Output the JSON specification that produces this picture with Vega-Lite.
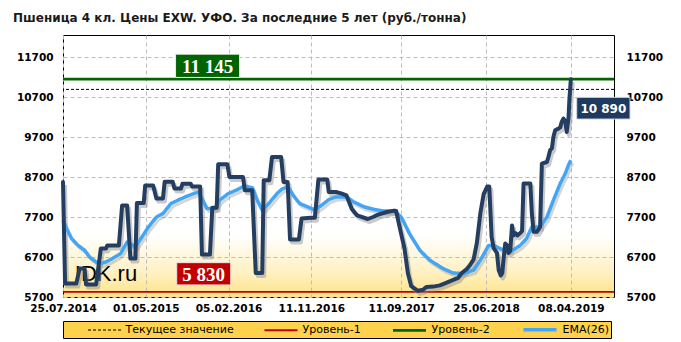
{
  "$schema": "https://vega.github.io/schema/vega-lite/v6.json",
  "width": 551,
  "height": 262,
  "autosize": {"type": "none"},
  "padding": {"left": 63, "top": 35, "right": 67, "bottom": 45},
  "background": "#ffffff",
  "title": {"text": "Пшеница  4 кл. Цены EXW. УФО. За последние 5 лет (руб./тонна)", "anchor": "start", "frame": "group", "dx": -50, "offset": 10, "font": "DejaVu Sans", "fontSize": 12, "fontWeight": "bold", "color": "#1a1a1a"},
  "datasets": {
    "price": [
      {"date": "2014-07-25", "value": 8575}, {"date": "2014-08-01", "value": 6035}, {"date": "2014-09-08", "value": 6035}, {"date": "2014-09-19", "value": 6410}, {"date": "2014-10-06", "value": 6410}, {"date": "2014-10-11", "value": 6010}, {"date": "2014-11-14", "value": 6010}, {"date": "2014-11-30", "value": 6910}, {"date": "2014-12-17", "value": 6910}, {"date": "2014-12-22", "value": 6990}, {"date": "2015-01-30", "value": 6990}, {"date": "2015-02-10", "value": 7990}, {"date": "2015-02-27", "value": 7990}, {"date": "2015-03-10", "value": 6660}, {"date": "2015-03-27", "value": 6660}, {"date": "2015-04-01", "value": 8050}, {"date": "2015-04-24", "value": 8050}, {"date": "2015-04-29", "value": 8490}, {"date": "2015-05-26", "value": 8490}, {"date": "2015-06-06", "value": 8160}, {"date": "2015-06-28", "value": 8160}, {"date": "2015-07-04", "value": 8580}, {"date": "2015-07-31", "value": 8580}, {"date": "2015-08-06", "value": 8410}, {"date": "2015-08-28", "value": 8410}, {"date": "2015-09-02", "value": 8530}, {"date": "2015-09-30", "value": 8530}, {"date": "2015-10-05", "value": 8460}, {"date": "2015-11-01", "value": 8460}, {"date": "2015-11-07", "value": 6760}, {"date": "2015-12-04", "value": 6760}, {"date": "2015-12-12", "value": 7930}, {"date": "2015-12-27", "value": 7930}, {"date": "2016-01-01", "value": 9020}, {"date": "2016-02-01", "value": 9020}, {"date": "2016-02-08", "value": 8700}, {"date": "2016-03-25", "value": 8700}, {"date": "2016-03-31", "value": 8370}, {"date": "2016-04-25", "value": 8370}, {"date": "2016-05-07", "value": 6300}, {"date": "2016-05-29", "value": 6300}, {"date": "2016-06-03", "value": 8620}, {"date": "2016-06-22", "value": 8620}, {"date": "2016-07-01", "value": 9200}, {"date": "2016-08-01", "value": 9200}, {"date": "2016-08-09", "value": 8575}, {"date": "2016-08-23", "value": 8575}, {"date": "2016-08-31", "value": 7140}, {"date": "2016-09-30", "value": 7140}, {"date": "2016-10-09", "value": 7660}, {"date": "2016-11-09", "value": 7680}, {"date": "2016-11-23", "value": 7680}, {"date": "2016-12-05", "value": 8640}, {"date": "2017-01-04", "value": 8640}, {"date": "2017-01-09", "value": 8325}, {"date": "2017-02-02", "value": 8325}, {"date": "2017-02-20", "value": 8290}, {"date": "2017-03-10", "value": 8240}, {"date": "2017-03-28", "value": 7900}, {"date": "2017-04-15", "value": 7740}, {"date": "2017-05-21", "value": 7650}, {"date": "2017-06-08", "value": 7700}, {"date": "2017-06-25", "value": 7760}, {"date": "2017-07-25", "value": 7825}, {"date": "2017-08-18", "value": 7860}, {"date": "2017-08-25", "value": 7850}, {"date": "2017-09-05", "value": 7470}, {"date": "2017-09-22", "value": 6920}, {"date": "2017-10-04", "value": 6285}, {"date": "2017-10-15", "value": 5970}, {"date": "2017-11-07", "value": 5855}, {"date": "2017-11-24", "value": 5880}, {"date": "2017-12-05", "value": 5950}, {"date": "2017-12-28", "value": 5960}, {"date": "2018-01-20", "value": 5990}, {"date": "2018-02-12", "value": 6060}, {"date": "2018-03-06", "value": 6130}, {"date": "2018-03-23", "value": 6180}, {"date": "2018-04-04", "value": 6300}, {"date": "2018-04-21", "value": 6400}, {"date": "2018-05-02", "value": 6500}, {"date": "2018-05-14", "value": 6640}, {"date": "2018-05-25", "value": 7050}, {"date": "2018-06-06", "value": 7800}, {"date": "2018-06-17", "value": 8270}, {"date": "2018-06-29", "value": 8460}, {"date": "2018-07-06", "value": 8460}, {"date": "2018-07-14", "value": 7200}, {"date": "2018-07-21", "value": 6920}, {"date": "2018-08-01", "value": 6800}, {"date": "2018-08-07", "value": 6370}, {"date": "2018-08-14", "value": 6240}, {"date": "2018-08-19", "value": 6300}, {"date": "2018-08-23", "value": 6620}, {"date": "2018-08-29", "value": 7035}, {"date": "2018-09-05", "value": 6990}, {"date": "2018-09-09", "value": 6800}, {"date": "2018-09-15", "value": 6850}, {"date": "2018-09-21", "value": 7490}, {"date": "2018-09-26", "value": 7240}, {"date": "2018-10-02", "value": 7300}, {"date": "2018-10-09", "value": 7240}, {"date": "2018-10-19", "value": 7300}, {"date": "2018-10-25", "value": 7350}, {"date": "2018-10-30", "value": 8535}, {"date": "2018-11-22", "value": 8535}, {"date": "2018-11-27", "value": 7800}, {"date": "2018-12-03", "value": 7330}, {"date": "2018-12-14", "value": 7330}, {"date": "2018-12-25", "value": 7450}, {"date": "2018-12-31", "value": 9035}, {"date": "2019-01-17", "value": 9075}, {"date": "2019-01-22", "value": 9200}, {"date": "2019-01-28", "value": 9370}, {"date": "2019-02-03", "value": 9420}, {"date": "2019-02-08", "value": 9700}, {"date": "2019-02-14", "value": 9870}, {"date": "2019-02-25", "value": 9910}, {"date": "2019-03-03", "value": 9940}, {"date": "2019-03-08", "value": 10075}, {"date": "2019-03-14", "value": 10160}, {"date": "2019-03-20", "value": 10100}, {"date": "2019-03-25", "value": 9825}, {"date": "2019-03-31", "value": 10160}, {"date": "2019-04-03", "value": 10620}, {"date": "2019-04-08", "value": 11145}
    ],
    "ema": [
      {"date": "2014-07-25", "value": 7620}, {"date": "2014-08-06", "value": 7410}, {"date": "2014-08-23", "value": 7160}, {"date": "2014-09-14", "value": 6990}, {"date": "2014-10-06", "value": 6870}, {"date": "2014-10-23", "value": 6700}, {"date": "2014-11-14", "value": 6575}, {"date": "2014-11-30", "value": 6535}, {"date": "2014-12-17", "value": 6575}, {"date": "2015-01-08", "value": 6660}, {"date": "2015-02-05", "value": 6785}, {"date": "2015-02-27", "value": 7075}, {"date": "2015-03-27", "value": 6950}, {"date": "2015-04-18", "value": 7200}, {"date": "2015-05-10", "value": 7450}, {"date": "2015-06-06", "value": 7700}, {"date": "2015-06-28", "value": 7785}, {"date": "2015-07-25", "value": 8035}, {"date": "2015-08-22", "value": 8135}, {"date": "2015-09-24", "value": 8240}, {"date": "2015-10-27", "value": 8325}, {"date": "2015-11-24", "value": 7910}, {"date": "2015-12-21", "value": 7910}, {"date": "2016-01-06", "value": 8120}, {"date": "2016-02-04", "value": 8285}, {"date": "2016-03-02", "value": 8370}, {"date": "2016-03-31", "value": 8480}, {"date": "2016-04-26", "value": 8430}, {"date": "2016-05-10", "value": 8150}, {"date": "2016-05-29", "value": 7870}, {"date": "2016-06-20", "value": 8035}, {"date": "2016-07-18", "value": 8285}, {"date": "2016-08-04", "value": 8400}, {"date": "2016-08-25", "value": 8450}, {"date": "2016-09-11", "value": 8240}, {"date": "2016-10-03", "value": 8035}, {"date": "2016-10-31", "value": 7950}, {"date": "2016-11-23", "value": 7875}, {"date": "2016-12-17", "value": 8000}, {"date": "2017-01-09", "value": 8135}, {"date": "2017-02-02", "value": 8200}, {"date": "2017-03-10", "value": 8200}, {"date": "2017-04-04", "value": 8075}, {"date": "2017-05-10", "value": 7950}, {"date": "2017-06-14", "value": 7885}, {"date": "2017-07-14", "value": 7850}, {"date": "2017-08-18", "value": 7850}, {"date": "2017-09-11", "value": 7700}, {"date": "2017-10-09", "value": 7285}, {"date": "2017-11-13", "value": 6870}, {"date": "2017-12-17", "value": 6620}, {"date": "2018-01-31", "value": 6410}, {"date": "2018-03-06", "value": 6300}, {"date": "2018-04-09", "value": 6285}, {"date": "2018-05-14", "value": 6370}, {"date": "2018-06-06", "value": 6620}, {"date": "2018-07-04", "value": 6990}, {"date": "2018-07-21", "value": 6990}, {"date": "2018-08-12", "value": 6910}, {"date": "2018-08-29", "value": 6870}, {"date": "2018-09-26", "value": 6880}, {"date": "2018-10-19", "value": 6990}, {"date": "2018-11-09", "value": 7160}, {"date": "2018-11-27", "value": 7450}, {"date": "2018-12-25", "value": 7450}, {"date": "2019-01-17", "value": 7700}, {"date": "2019-02-08", "value": 8120}, {"date": "2019-03-03", "value": 8535}, {"date": "2019-03-20", "value": 8785}, {"date": "2019-03-31", "value": 9000}, {"date": "2019-04-08", "value": 9120}
    ],
    "levels": [
      {"series": "Текущее значение", "value": 10890},
      {"series": "Уровень-1", "value": 5830},
      {"series": "Уровень-2", "value": 11145}
    ],
    "labels": [
      {"label": "11 145", "date": "2015-11-26", "value": 11480},
      {"label": "5 830", "date": "2015-11-13", "value": 6280},
      {"label": "10 890", "date": "2019-07-27", "value": 10420}
    ],
    "watermark": [
      {"text": "IDK.ru", "date": "2014-09-03", "value": 6108}
    ]
  },
  "config": {
    "view": {"stroke": "#000000", "strokeWidth": 1, "fill": {"gradient": "linear", "x1": 0, "y1": 0, "x2": 0, "y2": 1, "stops": [{"offset": 0, "color": "#ffffff"}, {"offset": 0.76, "color": "#ffffff"}, {"offset": 0.9, "color": "#FFF1C4"}, {"offset": 1, "color": "#FFE386"}]}},
    "axis": {"domain": false, "ticks": false, "labelFont": "DejaVu Sans", "labelFontWeight": "bold", "labelFontSize": 10.5, "labelColor": "#000000", "gridColor": "#BDBDBD", "gridDash": [4, 3], "gridWidth": 1},
    "legend": {"orient": "none", "legendX": 0, "legendY": 286, "direction": "horizontal", "fillColor": "#FFD24D", "strokeColor": "#000000", "padding": 1, "symbolType": "M-3,0L3,0", "symbolSize": 121, "symbolOffset": 9.5, "labelFont": "DejaVu Sans", "labelFontSize": 11, "labelColor": "#000000", "labelOffset": 15, "columnPadding": 26, "titleOrient": "left", "titlePadding": 25, "titleFontSize": 11, "labelLimit": 300}
  },
  "resolve": {"axis": {"y": "independent"}, "scale": {"y": "shared"}},
  "layer": [
    {
      "data": {"name": "watermark"},
      "mark": {"type": "text", "align": "left", "baseline": "alphabetic", "font": "Liberation Sans", "fontSize": 22, "color": "#000000"},
      "encoding": {
        "x": {"field": "date", "type": "temporal", "title": null,
              "scale": {"type": "utc", "domain": [{"year": 2014, "month": 7, "date": 25, "utc": true}, {"year": 2019, "month": 9, "date": 1, "utc": true}]},
              "axis": {"values": [{"year": 2014, "month": 7, "date": 25, "utc": true}, {"year": 2015, "month": 5, "date": 1, "utc": true}, {"year": 2016, "month": 2, "date": 5, "utc": true}, {"year": 2016, "month": 11, "date": 11, "utc": true}, {"year": 2017, "month": 9, "date": 11, "utc": true}, {"year": 2018, "month": 6, "date": 25, "utc": true}, {"year": 2019, "month": 4, "date": 8, "utc": true}], "format": "%d.%m.%Y", "labelFlush": false, "labelOverlap": false, "labelBound": false, "labelPadding": 6, "grid": true}},
        "y": {"field": "value", "type": "quantitative", "axis": null, "scale": {"domain": [5700, 12250], "nice": false, "zero": false}},
        "text": {"field": "text"}
      }
    },
    {
      "data": {"name": "levels"},
      "mark": {"type": "rule"},
      "encoding": {
        "y": {"field": "value", "type": "quantitative", "axis": null, "scale": {"domain": [5700, 12250], "nice": false, "zero": false}},
        "color": {"field": "series", "type": "nominal", "title": " ", "scale": {"domain": ["Текущее значение", "Уровень-1", "Уровень-2", "EMA(26)"], "range": ["#000000", "#C00000", "#006400", "#42A5F5"]}, "legend": {"fillColor": "#FFD24D", "strokeColor": "#000000", "labelExpr": "datum.label == 'EMA(26)' ? 'EMA(26)\u2003\u2003' : datum.label"}},
        "strokeDash": {"field": "series", "type": "nominal", "title": " ", "scale": {"domain": ["Текущее значение", "Уровень-1", "Уровень-2", "EMA(26)"], "range": [[3, 2], [1, 0], [1, 0], [1, 0]]}, "legend": {"fillColor": "#FFD24D", "strokeColor": "#000000", "labelExpr": "datum.label == 'EMA(26)' ? 'EMA(26)\u2003\u2003' : datum.label"}},
        "strokeWidth": {"field": "series", "type": "nominal", "title": " ", "scale": {"domain": ["Текущее значение", "Уровень-1", "Уровень-2", "EMA(26)"], "range": [1, 3.5, 3.5, 3.5]}, "legend": {"fillColor": "#FFD24D", "strokeColor": "#000000", "labelExpr": "datum.label == 'EMA(26)' ? 'EMA(26)\u2003\u2003' : datum.label"}}
      }
    },
    {
      "data": {"name": "price"},
      "mark": {"type": "line", "color": "#8a8a8a", "opacity": 0.45, "strokeWidth": 4, "xOffset": 2, "yOffset": 3, "strokeJoin": "round"},
      "encoding": {
        "x": {"field": "date", "type": "temporal", "title": null},
        "y": {"field": "value", "type": "quantitative", "title": null, "scale": {"domain": [5700, 12250], "nice": false, "zero": false},
              "axis": {"orient": "right", "values": [5700, 6700, 7700, 8700, 9700, 10700, 11700], "format": "d", "grid": false, "labelPadding": 12}}
      }
    },
    {
      "data": {"name": "ema"},
      "mark": {"type": "line", "color": "#8a8a8a", "opacity": 0.35, "strokeWidth": 3, "xOffset": 2, "yOffset": 3},
      "encoding": {
        "x": {"field": "date", "type": "temporal", "title": null},
        "y": {"field": "value", "type": "quantitative", "axis": null, "scale": {"domain": [5700, 12250], "nice": false, "zero": false}}
      }
    },
    {
      "data": {"name": "ema"},
      "mark": {"type": "line", "strokeJoin": "round"},
      "encoding": {
        "x": {"field": "date", "type": "temporal", "title": null},
        "y": {"field": "value", "type": "quantitative", "axis": null, "scale": {"domain": [5700, 12250], "nice": false, "zero": false}},
        "color": {"datum": "EMA(26)", "type": "nominal", "title": " ", "scale": {"domain": ["Текущее значение", "Уровень-1", "Уровень-2", "EMA(26)"], "range": ["#000000", "#C00000", "#006400", "#42A5F5"]}, "legend": {"fillColor": "#FFD24D", "strokeColor": "#000000"}},
        "strokeDash": {"datum": "EMA(26)", "type": "nominal", "title": " ", "scale": {"domain": ["Текущее значение", "Уровень-1", "Уровень-2", "EMA(26)"], "range": [[3, 2], [1, 0], [1, 0], [1, 0]]}, "legend": {"fillColor": "#FFD24D", "strokeColor": "#000000"}},
        "strokeWidth": {"datum": "EMA(26)", "type": "nominal", "title": " ", "scale": {"domain": ["Текущее значение", "Уровень-1", "Уровень-2", "EMA(26)"], "range": [1, 3.5, 3.5, 3.5]}, "legend": {"fillColor": "#FFD24D", "strokeColor": "#000000"}}
      }
    },
    {
      "data": {"name": "price"},
      "mark": {"type": "line", "color": "#243E61", "strokeWidth": 4, "strokeJoin": "round", "strokeCap": "round"},
      "encoding": {
        "x": {"field": "date", "type": "temporal", "title": null},
        "y": {"field": "value", "type": "quantitative", "title": null, "scale": {"domain": [5700, 12250], "nice": false, "zero": false},
              "axis": {"orient": "left", "values": [5700, 6700, 7700, 8700, 9700, 10700, 11700], "format": "d", "grid": true, "labelPadding": 10}}
      }
    },
    {
      "data": {"name": "labels"},
      "transform": [{"filter": "datum.label == '11 145'"}],
      "mark": {"type": "point", "shape": "M-1,-0.364L1,-0.364L1,0.364L-1,0.364Z", "filled": true, "size": 4096, "color": "#006400", "opacity": 1, "stroke": "#e8f0e8", "strokeWidth": 1},
      "encoding": {
        "x": {"field": "date", "type": "temporal", "title": null},
        "y": {"field": "value", "type": "quantitative", "axis": null, "scale": {"domain": [5700, 12250], "nice": false, "zero": false}}
      }
    },
    {
      "data": {"name": "labels"},
      "transform": [{"filter": "datum.label == '5 830'"}],
      "mark": {"type": "point", "shape": "M-1,-0.413L1,-0.413L1,0.413L-1,0.413Z", "filled": true, "size": 2916, "color": "#C00000", "opacity": 1, "stroke": "#f0e0e0", "strokeWidth": 1},
      "encoding": {
        "x": {"field": "date", "type": "temporal", "title": null},
        "y": {"field": "value", "type": "quantitative", "axis": null, "scale": {"domain": [5700, 12250], "nice": false, "zero": false}}
      }
    },
    {
      "data": {"name": "labels"},
      "transform": [{"filter": "datum.label == '10 890'"}],
      "mark": {"type": "point", "shape": "M-1,-0.407L1,-0.407L1,0.407L-1,0.407Z", "filled": true, "size": 2841, "color": "#1F3A5F", "opacity": 1, "stroke": "#d0d8e4", "strokeWidth": 1},
      "encoding": {
        "x": {"field": "date", "type": "temporal", "title": null},
        "y": {"field": "value", "type": "quantitative", "axis": null, "scale": {"domain": [5700, 12250], "nice": false, "zero": false}}
      }
    },
    {
      "data": {"name": "labels"},
      "transform": [{"filter": "datum.label != '10 890'"}],
      "mark": {"type": "text", "align": "center", "baseline": "middle", "font": "Liberation Serif", "fontWeight": "bold", "fontSize": 19, "color": "#ffffff", "dy": 1},
      "encoding": {
        "x": {"field": "date", "type": "temporal", "title": null},
        "y": {"field": "value", "type": "quantitative", "axis": null, "scale": {"domain": [5700, 12250], "nice": false, "zero": false}},
        "text": {"field": "label"}
      }
    },
    {
      "data": {"name": "labels"},
      "transform": [{"filter": "datum.label == '10 890'"}],
      "mark": {"type": "text", "align": "center", "baseline": "middle", "font": "DejaVu Sans", "fontWeight": "bold", "fontSize": 12, "color": "#ffffff", "dy": 1},
      "encoding": {
        "x": {"field": "date", "type": "temporal", "title": null},
        "y": {"field": "value", "type": "quantitative", "axis": null, "scale": {"domain": [5700, 12250], "nice": false, "zero": false}},
        "text": {"field": "label"}
      }
    }
  ]
}
